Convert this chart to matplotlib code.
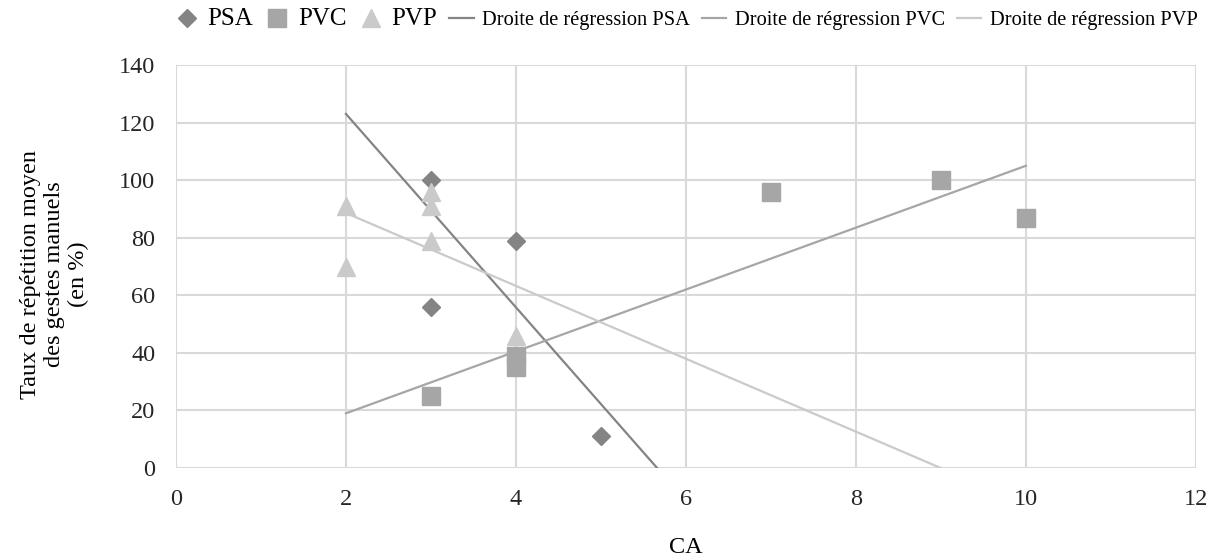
import numpy as np
import matplotlib.pyplot as plt

# observed points
psa_x = [3, 3, 4, 5]
psa_y = [100, 56, 79, 11]
pvc_x = [3, 4, 4, 7, 9, 10]
pvc_y = [25, 39, 35, 96, 100, 87]
pvp_x = [2, 2, 3, 3, 3, 4]
pvp_y = [91, 70, 96, 91, 79, 46]

# regression lines (slope, intercept)
psa_fit = (-33.6, 190.2)
pvc_fit = (10.75, -2.5)
pvp_fit = (-12.66, 113.9)
fit_range = [2, 10]

c_psa = "#848484"
c_pvc = "#a6a6a6"
c_pvp = "#cacaca"

plt.rcParams['font.family'] = ['Liberation Serif', 'DejaVu Serif']

fig = plt.figure(figsize=(12.17, 5.59), dpi=100)
ax = fig.add_axes([0.1446, 0.1628, 0.8381, 0.7209])

ax.plot(psa_x, psa_y, linestyle="none", marker="D", ms=9, color=c_psa, label="PSA", zorder=3)
ax.plot(pvc_x, pvc_y, linestyle="none", marker="s", ms=13, color=c_pvc, label="PVC", zorder=3)
ax.plot(pvp_x, pvp_y, linestyle="none", marker="^", ms=13, color=c_pvp, label="PVP", zorder=3)

xs = np.array(fit_range, dtype=float)
for fit, col, name in [(psa_fit, c_psa, "PSA"), (pvc_fit, c_pvc, "PVC"), (pvp_fit, c_pvp, "PVP")]:
    ax.plot(xs, fit[0] * xs + fit[1], color=col, lw=1.6, label="Droite de régression " + name, zorder=2)

ax.set_xlim(0, 12)
ax.set_ylim(0, 140)
ax.set_xticks(np.arange(0, 13, 2))
ax.set_yticks(np.arange(0, 141, 20))
ax.grid(True, color="#d9d9d9", lw=1.5)
ax.set_axisbelow(True)
for s in ax.spines.values():
    s.set_visible(False)
ax.tick_params(length=0, labelsize=17.5, pad=15, colors="#262626")

ax.set_xlabel("CA", fontsize=17.5, va="top")
ax.xaxis.set_label_coords(0.5, -0.172)
ax.set_ylabel("Taux de répétition moyen\ndes gestes manuels\n(en %)", fontsize=17.5, linespacing=1.2)
ax.yaxis.set_label_coords(-0.085, 0.48)

leg = ax.legend(loc="center", bbox_to_anchor=(0.5, 1.113), ncol=6, frameon=False,
                handlelength=1.2, handletextpad=0.4, columnspacing=0.6, fontsize=14.7,
                borderpad=0, borderaxespad=0)
for i, t in enumerate(leg.get_texts()):
    t.set_fontsize(18 if i < 3 else 14.7)

fig.savefig("out.png", dpi=100)
